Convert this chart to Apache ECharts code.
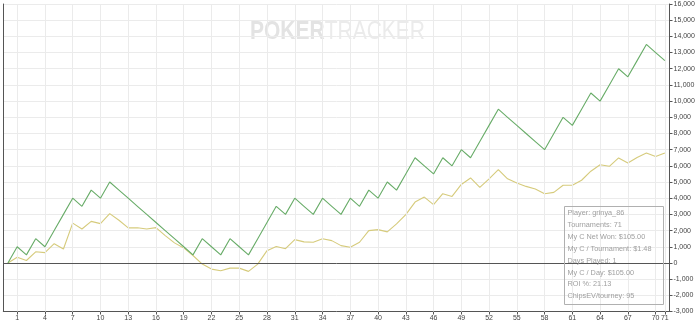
<!DOCTYPE html>
<html><head><meta charset="utf-8">
<script src="https://cdn.jsdelivr.net/npm/echarts@6/dist/echarts.min.js"></script>
<style>html,body{margin:0;padding:0;background:#fff}#c{width:700px;height:323px}</style>
</head><body><div id="c"></div>
<script>
const tournaments = [0,1,2,3,4,5,6,7,8,9,10,11,12,13,14,15,16,17,18,19,20,21,22,23,24,25,26,27,28,29,30,31,32,33,34,35,36,37,38,39,40,41,42,43,44,45,46,47,48,49,50,51,52,53,54,55,56,57,58,59,60,61,62,63,64,65,66,67,68,69,70,71];
const chipsWon = [0,1000,500,1500,1000,2000,3000,4000,3500,4500,4000,5000,4500,4000,3500,3000,2500,2000,1500,1000,500,1500,1000,500,1500,1000,500,1500,2500,3500,3000,4000,3500,3000,4000,3500,3000,4000,3500,4500,4000,5000,4500,5500,6500,6000,5500,6500,6000,7000,6500,7500,8500,9500,9000,8500,8000,7500,7000,8000,9000,8500,9500,10500,10000,11000,12000,11500,12500,13500,13000,12500];
const chipsEV = [0,350,150,690,640,1190,860,2460,2100,2570,2430,3050,2640,2170,2170,2100,2180,1690,1240,930,460,-70,-380,-480,-320,-320,-520,-70,760,1020,880,1440,1300,1280,1490,1380,1070,970,1280,2000,2060,1920,2410,2990,3760,4070,3600,4280,4110,4850,5250,4670,5200,5760,5200,4940,4730,4570,4280,4360,4800,4800,5110,5670,6070,5970,6490,6170,6520,6790,6580,6790];
const xTickLabels = [1,4,7,10,13,16,19,22,25,28,31,34,37,40,43,46,49,52,55,58,61,64,67,70,71];
const yMin = -3000, yMax = 16000, yStep = 1000;
const infoLines = ['Player: grinya_86','Tournaments: 71','My C Net Won: $105.00','My C / Tournament: $1.48','Days Played: 1','My C / Day: $105.00','ROI %: 21.13','ChipsEV/tourney: 95'];

const chart = echarts.init(document.getElementById('c'), null, {renderer:'canvas'});
const axisColor = '#555';
const gridColor = '#ebebeb';
const labelFont = 'Liberation Sans, Arial, sans-serif';

const infoEls = [{
  type:'rect', shape:{x:564.5, y:206.5, width:99, height:98},
  style:{fill:'rgba(255,255,255,0)', stroke:'#b0b0b0', lineWidth:1}, z:100
}];
infoLines.forEach((t,i)=>{
  infoEls.push({type:'text', x:567.5, y:213.3 + i*11.86, z:101,
    style:{text:t, fill:'#a0a0a0', font:'7.3px Liberation Sans, Arial, sans-serif', verticalAlign:'middle', align:'left'}});
});

chart.setOption({
  animation:false,
  backgroundColor:'#fff',
  grid:{left:3.3, right:30.5, top:4, bottom:11.5, containLabel:false},
  xAxis:{
    type:'value', min:-0.5, max:71.5,
    axisLine:{show:true, onZero:false, lineStyle:{color:axisColor, width:1}},
    axisTick:{show:true, customValues:xTickLabels, length:3, lineStyle:{color:axisColor}},
    axisLabel:{show:true, customValues:xTickLabels, color:'#444', fontSize:7, fontFamily:labelFont, margin:3},
    splitLine:{show:false}
  },
  yAxis:[{
    type:'value', position:'right', min:yMin, max:yMax, interval:yStep,
    axisLine:{show:true, onZero:false, lineStyle:{color:axisColor, width:1}},
    axisTick:{show:true, length:3, lineStyle:{color:axisColor}},
    axisLabel:{color:'#444', fontSize:7, fontFamily:labelFont, margin:4,
      formatter:v=>v.toLocaleString('en-US')},
    splitLine:{show:true, lineStyle:{color:gridColor, width:1}}
  },{
    type:'value', position:'left', min:yMin, max:yMax, interval:yStep,
    axisLine:{show:true, onZero:false, lineStyle:{color:axisColor, width:1}},
    axisTick:{show:false}, axisLabel:{show:false}, splitLine:{show:false}
  }],
  graphic:[
    {type:'text', x:250, y:32, scaleX:0.84, z:0, silent:true,
      style:{text:'{b|POKER}{n|TRACKER}', verticalAlign:'middle', align:'left',
        rich:{
          b:{fontFamily:'Liberation Sans, Arial', fontWeight:'bold', fontSize:25, fill:'#e3e3e3'},
          n:{fontFamily:'Liberation Sans, Arial', fontWeight:'normal', fontSize:25, fill:'#ebebeb'}
        }}},
    ...infoEls
  ],
  series:[
    {type:'line', data:[], z:1, silent:true,
      markLine:{silent:true, symbol:'none', label:{show:false},
        lineStyle:{color:gridColor, width:1, type:'solid'},
        data:xTickLabels.map(v=>({xAxis:v}))}},
    {type:'line', data:[], z:3, silent:true,
      markLine:{silent:true, symbol:'none', label:{show:false},
        lineStyle:{color:'#555', width:1, type:'solid'},
        data:[{yAxis:0}]}},
    {name:'ChipsEV', type:'line', showSymbol:false, symbol:'none', z:4,
      data:tournaments.map((t,i)=>[t, chipsEV[i]]),
      lineStyle:{color:'#d6cb7c', width:1.1}},
    {name:'Chips', type:'line', showSymbol:false, symbol:'none', z:5,
      data:tournaments.map((t,i)=>[t, chipsWon[i]]),
      lineStyle:{color:'#68ac68', width:1.1}}
  ]
});
</script></body></html>
